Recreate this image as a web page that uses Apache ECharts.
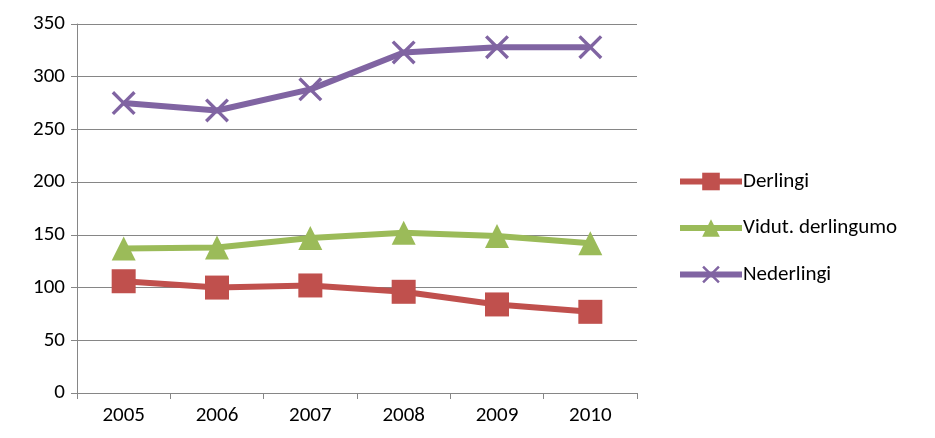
<!DOCTYPE html>
<html><head><meta charset="utf-8">
<script src="https://cdn.jsdelivr.net/npm/echarts@6/dist/echarts.min.js"></script>
<style>html,body{margin:0;background:#fff}#c{width:935px;height:438px}</style>
</head><body><div id="c"></div>
<script>
var years = ['2005','2006','2007','2008','2009','2010'];
var derlingi = [106, 100, 102, 96, 84, 77];
var vidut = [137, 138, 147, 152, 149, 142];
var nederlingi = [275, 268, 288, 323, 328, 328];

var crossPath = 'path://M0,1L1,0L5,4L9,0L10,1L6,5L10,9L9,10L5,6L1,10L0,9L4,5Z';
var font = 'Carlito, "Open Sans", "Liberation Sans", sans-serif';

var chart = echarts.init(document.getElementById('c'));
chart.setOption({
	animation: false,
	grid: {left: 77, right: 298, top: 24, bottom: 45},
	legend: {
		orient: 'vertical', left: 672, top: 166, itemGap: 25.5,
		itemWidth: 62, itemHeight: 22,
		lineStyle: {width: 6},
		textStyle: {fontFamily: font, fontSize: 21, color: '#000', padding: [0,0,0,-4]},
		data: ['Derlingi', 'Vidut. derlingumo', 'Nederlingi']
	},
	xAxis: {
		type: 'category', data: years, boundaryGap: true,
		axisLine: {lineStyle: {color: '#868686'}},
		axisTick: {show: true, length: 6, lineStyle: {color: '#868686'}},
		axisLabel: {fontFamily: font, fontSize: 21, color: '#000', margin: 12}
	},
	yAxis: {
		type: 'value', min: 0, max: 350, interval: 50,
		axisLine: {show: true, lineStyle: {color: '#868686'}},
		axisTick: {show: true, length: 6, lineStyle: {color: '#868686'}},
		splitLine: {lineStyle: {color: '#868686'}},
		axisLabel: {fontFamily: font, fontSize: 21, color: '#000', margin: 12}
	},
	series: [
		{name: 'Derlingi', type: 'line', data: derlingi, color: '#C0504D',
		 lineStyle: {width: 6}, symbol: 'rect', symbolSize: 24},
		{name: 'Vidut. derlingumo', type: 'line', data: vidut, color: '#9BBB59',
		 lineStyle: {width: 6}, symbol: 'triangle', symbolSize: 24},
		{name: 'Nederlingi', type: 'line', data: nederlingi, color: '#8064A2',
		 lineStyle: {width: 6}, symbol: crossPath, symbolSize: 24}
	]
});
</script>
</body></html>
